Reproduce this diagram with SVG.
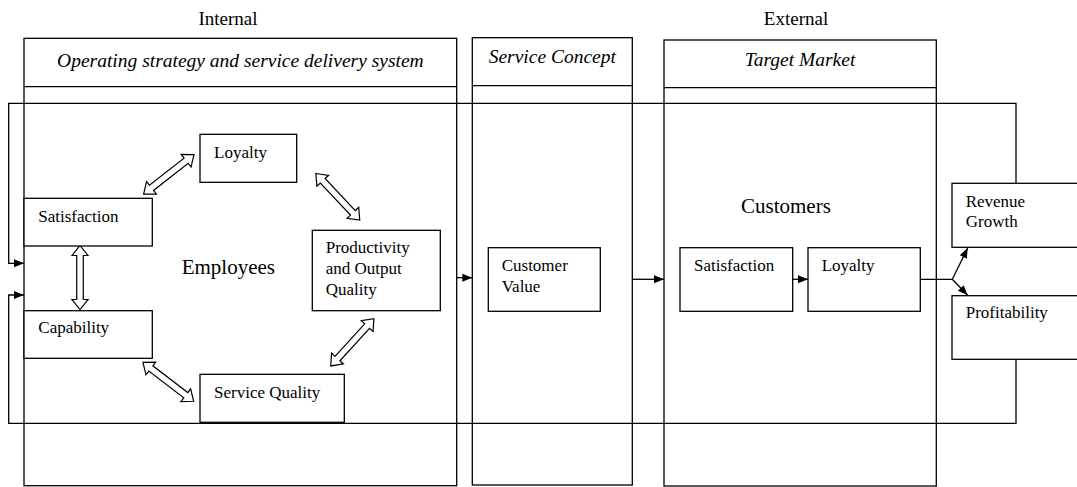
<svg xmlns="http://www.w3.org/2000/svg" xmlns:xlink="http://www.w3.org/1999/xlink" width="1077" height="487" viewBox="0 0 1077 487">
<style>
.box{fill:#fff;stroke:#000;stroke-width:1.3}
.col{fill:none;stroke:#000;stroke-width:1.3}
.ln{fill:none;stroke:#000;stroke-width:1.3}
.t{font-family:"Liberation Serif","Times New Roman",serif;font-size:17px;fill:#000}
.h{font-family:"Liberation Serif","Times New Roman",serif;font-size:19.5px;font-style:italic;fill:#000;text-anchor:middle}
.big{font-family:"Liberation Serif","Times New Roman",serif;font-size:21px;fill:#000}
.top{font-family:"Liberation Serif","Times New Roman",serif;font-size:19px;fill:#000;text-anchor:middle}
.dbl{fill:#fff;stroke:#000;stroke-width:1.2;stroke-linejoin:miter}
</style>
<defs>
<marker id="ah" markerUnits="userSpaceOnUse" markerWidth="11" markerHeight="9" refX="10" refY="4" orient="auto">
<path d="M0,0 L10,4 L0,8 Z" fill="#000"/>
</marker>
<path id="dblarrow" d="M-32,0 L-22,-8 L-22,-3.3 L22,-3.3 L22,-8 L32,0 L22,8 L22,3.3 L-22,3.3 L-22,8 Z"/>
</defs>
<rect width="1077" height="487" fill="#fff"/>
<text class="top" x="228" y="25">Internal</text>
<text class="top" x="796" y="25">External</text>
<g id="col-operating">
<rect class="col" x="24" y="38.3" width="432.7" height="447.4"/>
<line class="ln" x1="24" y1="86.7" x2="456.7" y2="86.7"/>
<text class="h" x="240.4" y="66.5">Operating strategy and service delivery system</text>
</g>
<g id="col-service-concept">
<rect class="col" x="472.3" y="37.7" width="160" height="447.3"/>
<line class="ln" x1="472.3" y1="85.7" x2="632.3" y2="85.7"/>
<text class="h" x="552.3" y="63">Service Concept</text>
</g>
<g id="col-target-market">
<rect class="col" x="664" y="40" width="272.3" height="446"/>
<line class="ln" x1="664" y1="87.7" x2="936.3" y2="87.7"/>
<text class="h" x="800" y="66">Target Market</text>
</g>
<g id="connectors">
<polyline class="ln" points="1016,183.3 1016,103.3 8.7,103.3 8.7,263.3 24,263.3" marker-end="url(#ah)"/>
<polyline class="ln" points="1016,359.3 1016,423.3 8.7,423.3 8.7,295 24,295" marker-end="url(#ah)"/>
<line class="ln" x1="456.7" y1="277.7" x2="472.3" y2="277.7" marker-end="url(#ah)"/>
<line class="ln" x1="632.3" y1="279.3" x2="664" y2="279.3" marker-end="url(#ah)"/>
<line class="ln" x1="792.7" y1="279.3" x2="808" y2="279.3" marker-end="url(#ah)"/>
<line class="ln" x1="920.3" y1="279.3" x2="952.3" y2="279.3"/>
<line class="ln" x1="952.3" y1="279.3" x2="967.7" y2="248" marker-end="url(#ah)"/>
<line class="ln" x1="952.3" y1="279.3" x2="967.7" y2="295.3" marker-end="url(#ah)"/>
<use xlink:href="#dblarrow" class="dbl" transform="translate(168.8,174.3) rotate(-38.1)"/>
<use xlink:href="#dblarrow" class="dbl" transform="translate(337.8,196.8) rotate(46.7)"/>
<use xlink:href="#dblarrow" class="dbl" transform="translate(80,277.5) rotate(90)"/>
<use xlink:href="#dblarrow" class="dbl" transform="translate(168.3,381.8) rotate(37.5)"/>
<use xlink:href="#dblarrow" class="dbl" transform="translate(352.3,342.3) rotate(-47.6)"/>
</g>
<text class="big" x="181.7" y="274">Employees</text>
<text class="big" x="741" y="213">Customers</text>
<g id="loyalty-emp">
<rect class="box" x="200" y="134.3" width="96.7" height="48"/>
<text class="t" x="214" y="158.3">Loyalty</text>
</g>
<g id="satisfaction-emp">
<rect class="box" x="24" y="198.3" width="128.3" height="47.7"/>
<text class="t" x="38.3" y="221.7">Satisfaction</text>
</g>
<g id="productivity">
<rect class="box" x="312.3" y="230.3" width="128" height="80.4"/>
<text class="t" x="325.7" y="253.3">Productivity</text>
<text class="t" x="325.7" y="274">and Output</text>
<text class="t" x="325.7" y="295">Quality</text>
</g>
<g id="capability">
<rect class="box" x="24" y="310.7" width="128.3" height="47.6"/>
<text class="t" x="38.3" y="333.3">Capability</text>
</g>
<g id="service-quality">
<rect class="box" x="200" y="374.3" width="144.3" height="48"/>
<text class="t" x="214" y="398.3">Service Quality</text>
</g>
<g id="customer-value">
<rect class="box" x="488.3" y="247.7" width="112" height="63.6"/>
<text class="t" x="501.7" y="271">Customer</text>
<text class="t" x="501.7" y="291.7">Value</text>
</g>
<g id="satisfaction-cust">
<rect class="box" x="680" y="247.7" width="112.7" height="63.6"/>
<text class="t" x="694" y="271">Satisfaction</text>
</g>
<g id="loyalty-cust">
<rect class="box" x="808" y="247.7" width="112.3" height="63.6"/>
<text class="t" x="821.7" y="271">Loyalty</text>
</g>
<g id="revenue-growth">
<rect class="box" x="952" y="183.3" width="130" height="64"/>
<text class="t" x="965.7" y="206.7">Revenue</text>
<text class="t" x="965.7" y="227.3">Growth</text>
</g>
<g id="profitability">
<rect class="box" x="952" y="295.7" width="130" height="63.6"/>
<text class="t" x="965.7" y="318.3">Profitability</text>
</g>
</svg>
